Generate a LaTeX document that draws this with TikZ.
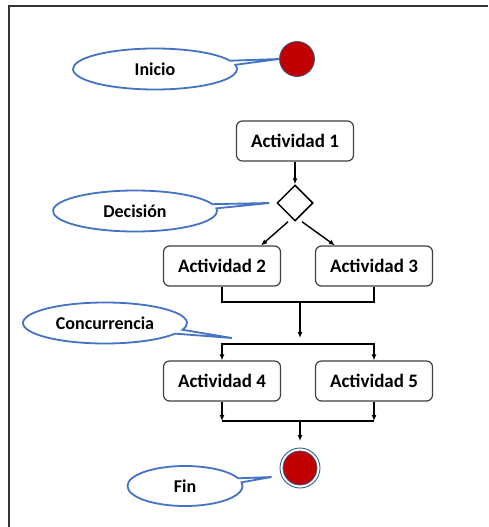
\documentclass[tikz,border=0pt]{standalone}
\usepackage{fontspec}
\setmainfont{Carlito}
\usetikzlibrary{shapes.geometric,shapes.callouts,arrows.meta}
\definecolor{redfill}{HTML}{C00000}
\definecolor{ringcol}{HTML}{385D8A}
\definecolor{callcol}{HTML}{4472C4}
\definecolor{boxcol}{HTML}{404040}
\tikzset{
  actbox/.style={draw=boxcol, line width=1.2pt, rounded corners=6pt, fill=white,
    minimum width=117pt, minimum height=40pt, inner sep=0pt,
    font=\bfseries\fontsize{19}{21}\selectfont},
  bubble/.style={ellipse callout, draw=callcol, line width=1.8pt, fill=white,
    minimum width=164pt, minimum height=41pt, inner sep=0pt, callout pointer arc=12,
    font=\bfseries\fontsize{18}{20}\selectfont},
  startdot/.style={circle, fill=redfill, draw=ringcol, line width=0.8pt,
    minimum size=35pt, inner sep=0pt},
  decbox/.style={diamond, draw=black, line width=1.5pt, minimum width=36pt,
    minimum height=36pt, inner sep=0pt, fill=white},
  conn/.style={draw=black, line width=1.4pt},
  arr/.style={conn, -{Latex[length=6pt,width=5pt]}},
}
\begin{document}
\begin{tikzpicture}[x=1pt,y=-1pt]
\useasboundingbox (0,0) rectangle (488,527);
\fill[white] (0,0) rectangle (488,527);
% frame
\draw[line width=2pt, color=boxcol!80!black] (9,527) -- (9,6) -- (488,6);

% nodes
\node[startdot] (ini) at (297,59) {};
\node[actbox] (a1) at (295,141) {Actividad 1};
\node[decbox] (dec) at (295,203) {};
\node[actbox] (a2) at (222,266) {Actividad 2};
\node[actbox] (a3) at (374,266) {Actividad 3};
\node[actbox] (a4) at (222,381) {Actividad 4};
\node[actbox] (a5) at (374,381) {Actividad 5};
\node[circle, draw=ringcol, line width=0.9pt, fill=white, minimum size=40pt, inner sep=0pt] (fin) at (300,468) {};
\node[startdot, minimum size=34pt] (finin) at (fin.center) {};

% join / fork coordinates
\coordinate (j1) at (300,302);
\coordinate (j1end) at (300,338);
\coordinate (f1) at (300,344);
\coordinate (j2) at (300,421);
\coordinate (j2end) at (300,441);
\coordinate (conctip) at (232,338);

% callouts
\node[bubble, callout absolute pointer={(ini.west)}] (cini) at (155,69) {Inicio};
\node[bubble, callout absolute pointer={([xshift=-7pt]dec.west)}] (cdec) at (135,211) {Decisión};
\node[bubble, callout absolute pointer={(conctip)}] (cconc) at (105,323) {Concurrencia};
\node[bubble, minimum width=115pt, minimum height=40pt, callout absolute pointer={([xshift=-8pt,yshift=-9pt]fin.west)}] (cfin) at (185,486) {Fin};

% connectors
\draw[arr] (a1.south) -- (dec.north);
\draw[arr] ([xshift=-7pt]dec.south) -- ([xshift=-20pt]a2.north east);
\draw[arr] ([xshift=7pt]dec.south) -- ([xshift=20pt]a3.north west);
\draw[conn] (a2.south) |- (j1) -| (a3.south);
\draw[arr] (j1) -- (j1end);
\draw[arr] (f1) -| (a4.north);
\draw[arr] (f1) -| (a5.north);
\draw[arr] (a4.south) -- (a4.south |- j2);
\draw[arr] (a5.south) -- (a5.south |- j2);
\draw[conn] (a4.south |- j2) -- (a5.south |- j2);
\draw[arr] (j2) -- (j2end);
\end{tikzpicture}
\end{document}
